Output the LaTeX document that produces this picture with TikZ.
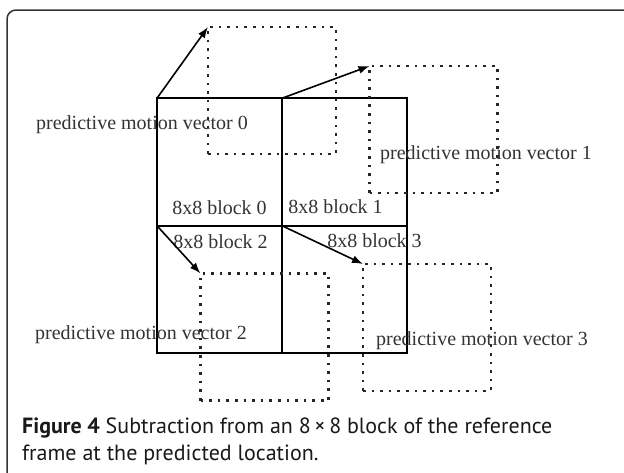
\documentclass[tikz,border=0pt]{standalone}
\usepackage{fontspec}
\setmainfont{Liberation Serif}
\newfontfamily\capfont{PT Sans}
\usetikzlibrary{positioning}
\usetikzlibrary{arrows.meta}

\begin{document}
\begin{tikzpicture}[x=1pt, y=-1pt,
    blocknode/.style={rectangle, draw=black, line width=1.6pt, minimum width=125pt, minimum height=127.5pt, inner sep=0pt, outer sep=0pt},
    prednode/.style={rectangle, draw=black!85, line width=2.2pt, dash pattern=on 2.6pt off 6pt, minimum width=128pt, minimum height=127pt, inner sep=0pt, outer sep=0pt},
    mvlabel/.style={font=\fontsize{20}{24}\selectfont, text=black!80, inner sep=0pt, anchor=west},
    blklabel/.style={font=\fontsize{20}{24}\selectfont, text=black!80, inner sep=0pt},
    mvarrow/.style={-{Latex[length=11pt,width=8pt]}, line width=1.6pt}]
    \useasboundingbox (0,0) rectangle (624,472);
    %Frame
    \draw[black!80, line width=1.5pt, rounded corners=9pt] (7,10) rectangle (660,510);
    %Nodes
    \node[blocknode] (blk0) at (219.5,162) {};
    \node[blocknode] (blk1) [right=0pt of blk0] {};
    \node[blocknode] (blk2) [below=0pt of blk0] {};
    \node[blocknode] (blk3) [right=0pt of blk2] {};
    \node[prednode] (pred0) at (272,90.5) {};
    \node[prednode] (pred1) at (433.5,129.5) {};
    \node[prednode] (pred2) at (264.5,337) {};
    \node[prednode] (pred3) at (427,327.5) {};
    \node[blklabel] (lbl0) at (219.5,208) {8x8 block 0};
    \node[blklabel] (lbl1) at (335.5,207) {8x8 block 1};
    \node[blklabel] (lbl2) at (220.5,242) {8x8 block 2};
    \node[blklabel] (lbl3) at (374.5,241) {8x8 block 3};
    \node[mvlabel] (mv0) at (36,125) {predictive motion vector 0};
    \node[mvlabel] (mv1) at (380,155) {predictive motion vector 1};
    \node[mvlabel] (mv2) at (35,335) {predictive motion vector 2};
    \node[mvlabel] (mv3) at (376,341) {predictive motion vector 3};
    %Motion vectors
    \draw[mvarrow] (blk0.north west) -- (pred0.north west);
    \draw[mvarrow] (blk1.north west) -- (pred1.north west);
    \draw[mvarrow] (blk2.north west) -- (pred2.north west);
    \draw[mvarrow] (blk3.north west) -- (pred3.north west);
    %Caption
    \node[anchor=west, align=left, inner sep=0pt, text=black!90, font=\capfont\fontsize{22}{27}\selectfont] (cap) at (22,441)
        {\textbf{Figure 4} Subtraction from an 8\,×\,8 block of the reference\\frame at the predicted location.};
\end{tikzpicture}
\end{document}
